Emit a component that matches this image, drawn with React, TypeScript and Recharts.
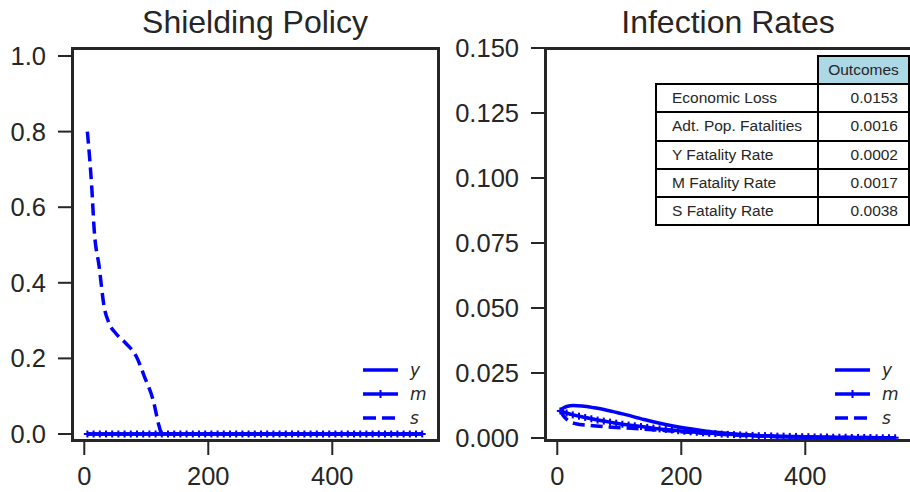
import { LineChart, Line, XAxis, YAxis } from 'recharts';

// time grid of the simulation (days)
const days = [
    5, 15, 25, 35, 45, 55, 65, 75, 85, 95, 105, 115, 125, 135, 145, 155, 165, 175, 185, 195,
    205, 215, 225, 235, 245, 255, 265, 275, 285, 295, 305, 315, 325, 335, 345, 355, 365, 375,
    385, 395, 405, 415, 425, 435, 445, 455, 465, 475, 485, 495, 505, 515, 525, 535, 545,
];

// shielding policy per age group
const shieldYoung = [
    0, 0, 0, 0, 0, 0, 0, 0, 0, 0, 0, 0, 0, 0, 0, 0, 0, 0, 0, 0, 0, 0, 0, 0, 0, 0, 0, 0,
    0, 0, 0, 0, 0, 0, 0, 0, 0, 0, 0, 0, 0, 0, 0, 0, 0, 0, 0, 0, 0, 0, 0, 0, 0, 0, 0,
];
const shieldMid = [
    0, 0, 0, 0, 0, 0, 0, 0, 0, 0, 0, 0, 0, 0, 0, 0, 0, 0, 0, 0, 0, 0, 0, 0, 0, 0, 0, 0,
    0, 0, 0, 0, 0, 0, 0, 0, 0, 0, 0, 0, 0, 0, 0, 0, 0, 0, 0, 0, 0, 0, 0, 0, 0, 0, 0,
];
const shieldSeniorDays = [5, 12, 16, 24, 32, 40, 51, 67, 84, 97, 111, 121, 125, 545];
const shieldSenior = [0.8, 0.654, 0.54, 0.443, 0.337, 0.293, 0.266, 0.24, 0.205, 0.152, 0.09, 0.019, 0, 0];

// infection rates per age group
const infYoungDays = [5, 15, 26, 40, 60, 80, 107, 140, 187, 230, 268, 300, 349, 400, 450, 545];
const infYoung = [
    0.0108, 0.0121, 0.0125, 0.0123, 0.0116, 0.0107, 0.0092, 0.0071, 0.0046, 0.003, 0.0019,
    0.0013, 0.0006, 0.0003, 0.0001, 0,
];
const infMid = [
    0.0104, 0.0096, 0.0089, 0.0084, 0.0079, 0.0074, 0.0069, 0.0065, 0.0061, 0.0057, 0.0053,
    0.005, 0.0047, 0.0044, 0.0041, 0.0038, 0.0035, 0.0033, 0.0031, 0.0028, 0.0026, 0.0024,
    0.0022, 0.002, 0.0018, 0.0017, 0.0015, 0.0014, 0.0013, 0.0012, 0.0011, 0.001, 0.0009,
    0.0009, 0.0008, 0.0007, 0.0007, 0.0006, 0.0006, 0.0005, 0.0005, 0.0004, 0.0004, 0.0004,
    0.0003, 0.0003, 0.0003, 0.0002, 0.0002, 0.0002, 0.0002, 0.0001, 0.0001, 0.0001, 0.0001,
];
const infSeniorDays = [5, 10, 15, 20, 30, 50, 80, 120, 160, 200, 250, 300, 350, 400, 450, 545];
const infSenior = [
    0.0105, 0.0085, 0.0072, 0.0063, 0.0055, 0.0049, 0.0043, 0.0037, 0.0031, 0.0024, 0.0016,
    0.001, 0.0006, 0.0003, 0.0002, 0.0001,
];

const xTicks = [0, 200, 400];
const shieldTicks = [0, 0.2, 0.4, 0.6, 0.8, 1.0];
const infTicks = [0, 0.025, 0.05, 0.075, 0.1, 0.125, 0.15];

const outcomeLabels = ['Economic Loss', 'Adt. Pop. Fatalities', 'Y Fatality Rate', 'M Fatality Rate', 'S Fatality Rate'];
const outcomeValues = ['0.0153', '0.0016', '0.0002', '0.0017', '0.0038'];

const legendLabels = ['y', 'm', 's'];

const BLUE = '#0000ff';
const INK = '#262626';
const FONT = '"Liberation Sans", Arial, sans-serif';

const pts = (xs: number[], vs: number[]) => xs.map((t, i) => ({ t, v: vs[i] }));

function PlusDot(props: any) {
    const { cx, cy } = props;
    if (cx == null || cy == null) return null;
    return (
        <g>
            <line x1={cx - 3.5} x2={cx + 3.5} y1={cy} y2={cy} stroke={BLUE} strokeWidth={2} />
            <line x1={cx} x2={cx} y1={cy - 3.5} y2={cy + 3.5} stroke={BLUE} strokeWidth={2} />
        </g>
    );
}

const tickStyle = { fill: INK, fontSize: 25.5, fontFamily: FONT };
const tickLineStyle = { stroke: INK, strokeWidth: 2 };

function Panel({ left, yWidth, width, yDomain, yTicks, fmt, series }: any) {
    return (
        <div style={{ position: 'absolute', left, top: 0 }}>
            <LineChart width={width} height={492} margin={{ top: 48, right: width - yWidth - 366, bottom: 0, left: 0 }}>
                <XAxis
                    type="number"
                    dataKey="t"
                    domain={[-19.8, 570.5]}
                    ticks={xTicks}
                    allowDataOverflow
                    height={52}
                    axisLine={false}
                    tickSize={15}
                    tickMargin={12}
                    tick={tickStyle}
                    tickLine={tickLineStyle}
                />
                <YAxis
                    type="number"
                    domain={yDomain}
                    ticks={yTicks}
                    allowDataOverflow
                    width={yWidth}
                    axisLine={false}
                    tickSize={14}
                    tickMargin={12}
                    tick={tickStyle}
                    tickLine={tickLineStyle}
                    tickFormatter={fmt}
                />
                <Line data={series[0]} dataKey="v" type="monotone" stroke={BLUE} strokeWidth={3.5} dot={false} isAnimationActive={false} />
                <Line data={series[1]} dataKey="v" type="linear" stroke={BLUE} strokeWidth={3.5} dot={<PlusDot />} isAnimationActive={false} />
                <Line data={series[2]} dataKey="v" type="monotone" stroke={BLUE} strokeWidth={3.5} strokeDasharray="12 6" dot={false} isAnimationActive={false} />
            </LineChart>
        </div>
    );
}

function LegendBlock({ x, y }: { x: number; y: number }) {
    return (
        <g>
            {legendLabels.map((label, i) => {
                const cy = y + i * 24;
                return (
                    <g key={label}>
                        <line
                            x1={x}
                            x2={x + 35}
                            y1={cy}
                            y2={cy}
                            stroke={BLUE}
                            strokeWidth={3.5}
                            strokeDasharray={label === 's' ? '13 6' : undefined}
                        />
                        {label === 'm' && <line x1={x + 17.5} x2={x + 17.5} y1={cy - 4} y2={cy + 4} stroke={BLUE} strokeWidth={2} />}
                        <text x={x + 47} y={cy + 6} fontSize={17} fontStyle="italic" fontFamily='"DejaVu Sans", sans-serif' fill={INK}>
                            {label}
                        </text>
                    </g>
                );
            })}
        </g>
    );
}

export default function App() {
    const cell = { border: '2px solid #000', padding: 0, fontSize: 15.5, color: INK };
    return (
        <div style={{ position: 'absolute', left: 0, top: 0, width: 910, height: 492, overflow: 'hidden', background: '#fff', fontFamily: FONT }}>
            <Panel
                left={0}
                yWidth={72}
                width={455}
                yDomain={[-0.0159, 1.0212]}
                yTicks={shieldTicks}
                fmt={(v: number) => v.toFixed(1)}
                series={[pts(days, shieldYoung), pts(days, shieldMid), pts(shieldSeniorDays, shieldSenior)]}
            />
            <Panel
                left={455}
                yWidth={90}
                width={460}
                yDomain={[-0.00077, 0.15]}
                yTicks={infTicks}
                fmt={(v: number) => v.toFixed(3)}
                series={[pts(infYoungDays, infYoung), pts(days, infMid), pts(infSeniorDays, infSenior)]}
            />
            {/* axes boxes (spines) */}
            <div style={{ position: 'absolute', left: 71, top: 46.5, width: 369, height: 395.5, border: `3px solid ${INK}`, boxSizing: 'border-box' }} />
            <div style={{ position: 'absolute', left: 543.5, top: 46.5, width: 369, height: 395.5, border: `3px solid ${INK}`, boxSizing: 'border-box' }} />
            <svg width={910} height={492} style={{ position: 'absolute', left: 0, top: 0 }}>
                <text x={255} y={33} textAnchor="middle" fontSize={32} fontFamily={FONT} fill={INK}>
                    Shielding Policy
                </text>
                <text x={728} y={33} textAnchor="middle" fontSize={32} fontFamily={FONT} fill={INK}>
                    Infection Rates
                </text>
                <LegendBlock x={363} y={370} />
                <LegendBlock x={835} y={370} />
            </svg>
            <table style={{ position: 'absolute', left: 655, top: 55, borderCollapse: 'collapse', background: '#fff' }}>
                <tbody>
                    <tr style={{ height: 28 }}>
                        <td style={{ width: 161, padding: 0 }} />
                        <td style={{ ...cell, width: 89, background: '#add8e6', textAlign: 'center' }}>Outcomes</td>
                    </tr>
                    {outcomeLabels.map((label, i) => (
                        <tr key={label} style={{ height: 28.3 }}>
                            <td style={{ ...cell, width: 161, paddingLeft: 15, boxSizing: 'border-box' }}>{label}</td>
                            <td style={{ ...cell, width: 89, textAlign: 'right', paddingRight: 10, boxSizing: 'border-box' }}>{outcomeValues[i]}</td>
                        </tr>
                    ))}
                </tbody>
            </table>
        </div>
    );
}
